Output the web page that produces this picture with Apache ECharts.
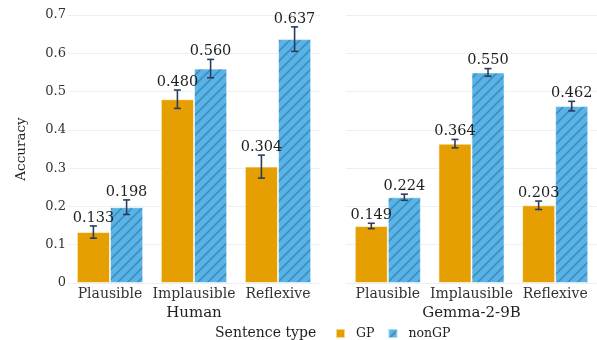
<!DOCTYPE html>
<html>
<head>
<meta charset="utf-8">
<script src="https://cdn.jsdelivr.net/npm/echarts@6/dist/echarts.min.js"></script>
<style>
  html, body { margin: 0; padding: 0; background: #ffffff; }
  #chart { width: 597px; height: 340px; }
</style>
</head>
<body>
<div id="chart"></div>
<script>
// Sentence types on each panel's x axis
const sentenceTypes = ['Plausible', 'Implausible', 'Reflexive'];
const panelTitles = ['Human', 'Gemma-2-9B'];
const groupNames = ['GP', 'nonGP'];

// Mean accuracy per sentence type
const humanGP = [0.133, 0.480, 0.304];
const humanNonGP = [0.198, 0.560, 0.637];
const gemmaGP = [0.149, 0.364, 0.203];
const gemmaNonGP = [0.224, 0.550, 0.462];

// Standard errors (half-length of the error bars)
const humanGPErr = [0.016, 0.024, 0.030];
const humanNonGPErr = [0.019, 0.024, 0.032];
const gemmaGPErr = [0.007, 0.011, 0.011];
const gemmaNonGPErr = [0.008, 0.010, 0.0125];

// Y axis scale
const yMin = 0;
const yMax = 0.7;
const yStep = 0.1;

const FONT = 'DejaVu Serif';
const GP_COLOR = '#E69F00';
const NONGP_COLOR = '#56B4E9';
const ERR_COLOR = '#2b3d5c';
const BAR_WIDTH_RATIO = 0.395;

// Diagonal stripe fill for the nonGP bars
function stripePattern() {
  const c = document.createElement('canvas');
  c.width = 10; c.height = 10;
  const g = c.getContext('2d');
  g.fillStyle = NONGP_COLOR;
  g.fillRect(0, 0, 10, 10);
  g.strokeStyle = 'rgba(50,85,115,0.42)';
  g.lineWidth = 1.6;
  g.beginPath();
  g.moveTo(-2, 12); g.lineTo(12, -2);
  g.moveTo(-2, 2); g.lineTo(2, -2);
  g.moveTo(8, 12); g.lineTo(12, 8);
  g.stroke();
  return c;
}
const nonGPFill = { image: stripePattern(), repeat: 'repeat' };

// rows: [category index, group index, mean, error]
function errorRows(gp, gpErr, ngp, ngpErr) {
  const rows = [];
  for (let i = 0; i < sentenceTypes.length; i++) {
    rows.push([i, 0, gp[i], gpErr[i]]);
    rows.push([i, 1, ngp[i], ngpErr[i]]);
  }
  return rows;
}

function renderErrorBar(params, api) {
  const cat = api.value(0);
  const grp = api.value(1);
  const mean = api.value(2);
  const err = api.value(3);
  const band = api.size([1, 0])[0];
  const barW = band * BAR_WIDTH_RATIO;
  const xc = api.coord([cat, 0])[0] + (grp === 0 ? -barW / 2 : barW / 2);
  const yHi = api.coord([cat, mean + err])[1];
  const yLo = api.coord([cat, mean - err])[1];
  const cap = 3.5;
  const lineStyle = { stroke: ERR_COLOR, lineWidth: 1.6 };
  return {
    type: 'group',
    children: [
      {
        type: 'text',
        style: {
          text: mean.toFixed(3),
          x: xc, y: yHi - 0.5,
          textAlign: 'center', textVerticalAlign: 'bottom',
          font: '14.5px "' + FONT + '"', fill: '#1f1f1f'
        }
      },
      { type: 'line', shape: { x1: xc, y1: yHi, x2: xc, y2: yLo }, style: lineStyle },
      { type: 'line', shape: { x1: xc - cap, y1: yHi, x2: xc + cap, y2: yHi }, style: lineStyle },
      { type: 'line', shape: { x1: xc - cap, y1: yLo, x2: xc + cap, y2: yLo }, style: lineStyle }
    ]
  };
}

const grids = [
  { left: 68, top: 15, width: 252, height: 268 },
  { left: 346, top: 15, width: 251, height: 268 }
];

function xAxisFor(idx) {
  return {
    type: 'category', gridIndex: idx, data: sentenceTypes,
    axisLine: { show: false }, axisTick: { show: false },
    axisLabel: { interval: 0, fontFamily: FONT, fontSize: 14, color: '#333', margin: 4 },
    name: panelTitles[idx], nameLocation: 'middle', nameGap: 20,
    nameTextStyle: { fontFamily: FONT, fontSize: 15, color: '#1f1f1f' }
  };
}

function yAxisFor(idx) {
  return {
    type: 'value', gridIndex: idx, min: yMin, max: yMax, interval: yStep,
    axisLine: { show: false }, axisTick: { show: false },
    axisLabel: { show: idx === 0, fontFamily: FONT, fontSize: 13, color: '#333', margin: 2 },
    splitLine: { show: true, lineStyle: { color: '#ebf0f6', width: 1 } },
    name: idx === 0 ? 'Accuracy' : '', nameLocation: 'middle', nameGap: 40,
    nameTextStyle: { fontFamily: FONT, fontSize: 13.5, color: '#1f1f1f' }
  };
}

function barSeries(name, data, idx, color) {
  return {
    type: 'bar', name: name, data: data,
    xAxisIndex: idx, yAxisIndex: idx,
    barWidth: (BAR_WIDTH_RATIO * 100) + '%', barGap: '0%',
    itemStyle: { color: color, borderColor: 'rgba(255,255,255,0.55)', borderWidth: 1 },
    emphasis: { disabled: true }
  };
}

const chart = echarts.init(document.getElementById('chart'), null, { renderer: 'canvas' });
chart.setOption({
  backgroundColor: '#ffffff',
  animation: false,
  grid: grids,
  xAxis: [xAxisFor(0), xAxisFor(1)],
  yAxis: [yAxisFor(0), yAxisFor(1)],
  legend: {
    data: groupNames, left: 335, top: 327, padding: 0,
    icon: 'rect', itemWidth: 9, itemHeight: 9, itemGap: 13,
    textStyle: { fontFamily: FONT, fontSize: 12.5, color: '#1f1f1f', padding: [0, 0, 0, 6] }
  },
  graphic: [
    {
      type: 'text', left: 215, top: 326,
      style: { text: 'Sentence type', font: '14px "' + FONT + '"', fill: '#1f1f1f' }
    }
  ],
  series: [
    barSeries(groupNames[0], humanGP, 0, GP_COLOR),
    barSeries(groupNames[1], humanNonGP, 0, nonGPFill),
    barSeries(groupNames[0], gemmaGP, 1, GP_COLOR),
    barSeries(groupNames[1], gemmaNonGP, 1, nonGPFill),
    {
      type: 'custom', xAxisIndex: 0, yAxisIndex: 0, z: 5,
      data: errorRows(humanGP, humanGPErr, humanNonGP, humanNonGPErr),
      renderItem: renderErrorBar, silent: true
    },
    {
      type: 'custom', xAxisIndex: 1, yAxisIndex: 1, z: 5,
      data: errorRows(gemmaGP, gemmaGPErr, gemmaNonGP, gemmaNonGPErr),
      renderItem: renderErrorBar, silent: true
    }
  ]
});
</script>
</body>
</html>
